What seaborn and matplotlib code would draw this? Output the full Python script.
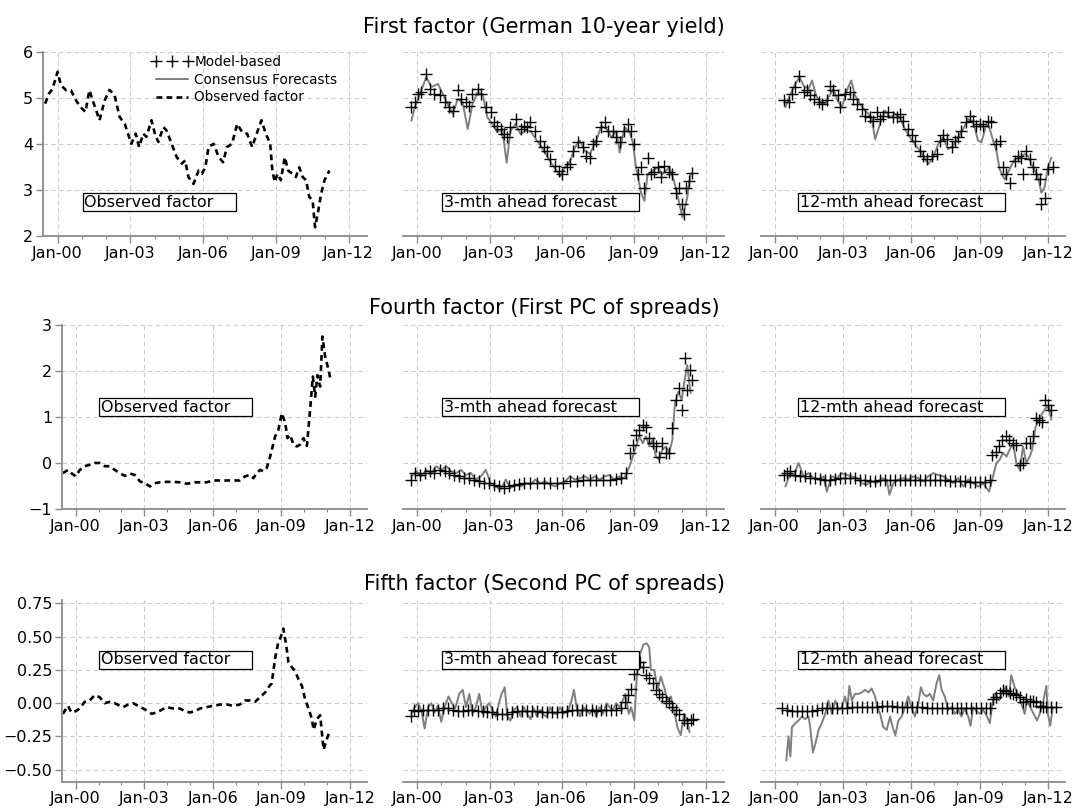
import numpy as np
import pandas as pd
import seaborn as sns
import matplotlib
matplotlib.use("Agg")
import matplotlib.pyplot as plt
from matplotlib.lines import Line2D

titles = ["First factor (German 10-year yield)",
          "Fourth factor (First PC of spreads)",
          "Fifth factor (Second PC of spreads)"]
panel_labels = ["Observed factor", "3-mth ahead forecast", "12-mth ahead forecast"]
legend_labels = ["Model-based", "Consensus Forecasts", "Observed factor"]
xtick_years = [2000, 2003, 2006, 2009, 2012]
xtick_labels = ["Jan-00", "Jan-03", "Jan-06", "Jan-09", "Jan-12"]
yticks = [[2, 3, 4, 5, 6], [-1, 0, 1, 2, 3], [-0.5, -0.25, 0, 0.25, 0.5, 0.75]]
ytick_labels = [["2", "3", "4", "5", "6"],
                ["\u22121", "0", "1", "2", "3"],
                ["\u22120.50", "\u22120.25", "0.00", "0.25", "0.50", "0.75"]]
ylims = [(2, 6), (-1, 3), (-0.59, 0.775)]

# (decimal year, value)
obs1 = [(1999.49,4.88),(1999.65,5.10),(1999.79,5.20),(2000.00,5.57),(2000.14,5.28),(2000.35,5.17),(2000.55,5.17),
        (2000.76,4.95),(2000.94,4.81),(2001.15,4.70),(2001.31,5.17),(2001.52,4.84),(2001.73,4.52),(2001.94,4.95),
        (2002.14,5.18),(2002.35,5.06),(2002.56,4.59),(2002.77,4.44),(2002.90,4.23),(2003.04,4.01),(2003.22,4.23),
        (2003.36,3.94),(2003.53,4.23),(2003.66,4.16),(2003.87,4.52),(2004.01,4.23),(2004.15,4.05),(2004.36,4.37),
        (2004.49,4.30),(2004.70,4.01),(2004.91,3.72),(2005.12,3.58),(2005.26,3.65),(2005.39,3.29),(2005.60,3.14),
        (2005.81,3.43),(2005.95,3.36),(2006.09,3.50),(2006.22,3.94),(2006.43,4.01),(2006.64,3.72),(2006.82,3.61),
        (2006.98,3.94),(2007.19,4.01),(2007.40,4.44),(2007.61,4.26),(2007.81,4.23),(2008.02,3.94),(2008.16,4.16),
        (2008.40,4.52),(2008.58,4.23),(2008.76,4.01),(2008.85,3.43),(2008.95,3.18),(2009.06,3.36),(2009.20,3.22),
        (2009.36,3.72),(2009.50,3.43),(2009.68,3.36),(2009.82,3.29),(2009.96,3.50),(2010.10,3.29),(2010.24,3.22),
        (2010.37,2.86),(2010.51,2.78),(2010.61,2.20),(2010.72,2.49),(2010.86,2.93),(2011.00,3.22),(2011.20,3.43)]
model1_3m = [(1999.73,4.80),(1999.89,4.91),(2000.03,5.09),(2000.16,5.13),(2000.37,5.53),(2000.51,5.20),(2000.71,5.09),
             (2000.92,5.06),(2001.13,4.91),(2001.33,4.80),(2001.47,4.73),(2001.68,5.17),(2001.81,4.98),(2002.02,4.91),
             (2002.16,4.84),(2002.29,5.09),(2002.50,5.20),(2002.64,5.09),(2002.84,4.80),(2003.05,4.69),(2003.19,4.48),
             (2003.32,4.40),(2003.46,4.33),(2003.60,4.22),(2003.74,4.15),(2003.87,4.37),(2004.08,4.55),(2004.29,4.33),
             (2004.42,4.40),(2004.56,4.37),(2004.70,4.48),(2004.90,4.29),(2005.11,4.08),(2005.25,3.93),(2005.38,3.86),
             (2005.52,3.68),(2005.73,3.53),(2005.87,3.42),(2006.00,3.35),(2006.21,3.50),(2006.35,3.57),(2006.48,3.86),
             (2006.69,4.04),(2006.90,3.93),(2007.03,3.75),(2007.17,3.71),(2007.31,4.00),(2007.44,4.08),(2007.65,4.37),
             (2007.79,4.48),(2007.93,4.29),(2008.13,4.29),(2008.27,4.15),(2008.41,4.04),(2008.61,4.29),(2008.75,4.44),
             (2008.89,4.29),(2009.02,4.00),(2009.16,3.35),(2009.30,3.50),(2009.44,3.06),(2009.57,3.71),(2009.71,3.35),
             (2009.85,3.39),(2009.99,3.50),(2010.12,3.28),(2010.26,3.53),(2010.47,3.39),(2010.60,3.35),(2010.74,2.95),
             (2010.88,3.06),(2011.02,2.70),(2011.09,2.48),(2011.15,3.06),(2011.29,3.21),(2011.43,3.37)]
cons1_3m = [(1999.75,4.51),(1999.89,4.80),(2000.16,5.17),(2000.37,5.46),(2000.58,5.24),(2000.85,5.31),(2001.06,5.09),
            (2001.26,4.87),(2001.47,4.66),(2001.68,4.98),(2001.88,4.91),(2002.09,4.33),(2002.29,4.87),(2002.50,5.13),
            (2002.71,5.09),(2002.91,4.58),(2003.12,4.44),(2003.32,4.26),(2003.53,4.33),(2003.71,3.60),(2003.87,4.29),
            (2004.08,4.44),(2004.29,4.22),(2004.49,4.29),(2004.70,4.29),(2004.97,4.08),(2005.18,3.93),(2005.38,3.75),
            (2005.59,3.57),(2005.80,3.42),(2005.96,3.31),(2006.14,3.50),(2006.35,3.64),(2006.55,3.93),(2006.76,4.08),
            (2006.96,3.86),(2007.17,3.79),(2007.44,4.08),(2007.65,4.40),(2007.86,4.33),(2008.07,4.15),(2008.27,4.29),
            (2008.41,3.82),(2008.61,4.37),(2008.82,4.26),(2008.96,4.04),(2009.09,3.50),(2009.30,2.95),(2009.44,2.77),
            (2009.57,3.35),(2009.78,3.42),(2009.99,3.50),(2010.19,3.35),(2010.47,3.50),(2010.67,3.21),(2010.81,2.91),
            (2011.02,2.41),(2011.22,2.84),(2011.36,3.35)]
model1_12m = [(2000.39,4.95),(2000.61,4.91),(2000.76,5.09),(2000.91,5.24),(2001.09,5.47),(2001.27,5.13),(2001.42,5.17),
              (2001.56,5.06),(2001.71,4.98),(2001.93,4.91),(2002.07,4.87),(2002.29,4.95),(2002.44,5.27),(2002.58,5.17),
              (2002.80,5.06),(2002.88,4.80),(2003.09,5.09),(2003.31,5.13),(2003.46,4.98),(2003.61,4.87),(2003.82,4.77),
              (2003.97,4.62),(2004.19,4.58),(2004.34,4.51),(2004.48,4.69),(2004.63,4.55),(2004.77,4.62),(2004.99,4.69),
              (2005.21,4.58),(2005.36,4.58),(2005.50,4.66),(2005.65,4.51),(2005.87,4.33),(2006.01,4.19),(2006.16,4.08),
              (2006.38,3.86),(2006.53,3.75),(2006.67,3.68),(2006.89,3.75),(2007.11,3.79),(2007.26,4.08),(2007.40,4.19),
              (2007.55,4.11),(2007.77,3.93),(2007.91,4.08),(2008.06,4.15),(2008.20,4.29),(2008.42,4.48),(2008.57,4.62),
              (2008.72,4.51),(2008.86,4.40),(2009.01,4.44),(2009.15,4.40),(2009.37,4.51),(2009.52,4.48),(2009.74,4.00),
              (2009.88,4.08),(2010.03,3.50),(2010.18,3.35),(2010.32,3.17),(2010.54,3.64),(2010.69,3.75),(2010.83,3.71),
              (2010.91,3.35),(2011.05,3.86),(2011.20,3.68),(2011.34,3.50),(2011.49,3.35),(2011.64,3.24),(2011.71,2.70),
              (2011.85,2.84),(2012.00,3.46),(2012.22,3.50)]
cons1_12m = [(2000.47,4.80),(2000.69,5.09),(2000.91,5.31),(2001.09,5.46),(2001.27,5.27),(2001.49,5.20),(2001.64,5.38),
             (2001.82,5.06),(2002.00,4.91),(2002.22,4.87),(2002.41,5.06),(2002.58,5.20),(2002.76,4.95),(2002.95,4.80),
             (2003.17,5.17),(2003.36,5.38),(2003.53,5.06),(2003.75,4.87),(2003.97,4.73),(2004.26,4.58),(2004.41,4.11),
             (2004.63,4.44),(2004.85,4.73),(2005.07,4.58),(2005.28,4.66),(2005.50,4.58),(2005.72,4.33),(2005.94,4.15),
             (2006.16,4.00),(2006.38,3.86),(2006.60,3.68),(2006.74,3.57),(2006.96,3.71),(2007.18,4.00),(2007.40,4.15),
             (2007.62,3.89),(2007.84,3.97),(2008.06,4.15),(2008.28,4.33),(2008.50,4.55),(2008.72,4.48),(2008.93,4.08),
             (2009.08,4.04),(2009.30,4.44),(2009.45,4.33),(2009.59,4.08),(2009.74,3.86),(2009.88,3.46),(2010.10,3.24),
             (2010.32,3.46),(2010.54,3.68),(2010.76,3.71),(2010.98,3.79),(2011.12,3.75),(2011.34,3.50),(2011.56,3.31),
             (2011.71,2.95),(2011.85,3.06),(2012.00,3.50),(2012.15,3.71)]

obs4 = [(1999.44,-0.22),(1999.66,-0.15),(1999.81,-0.22),(2000.00,-0.29),(2000.18,-0.15),(2000.39,-0.07),(2000.61,-0.04),
        (2000.83,0.00),(2001.05,0.00),(2001.27,-0.07),(2001.49,-0.07),(2001.71,-0.15),(2001.93,-0.22),(2002.15,-0.28),
        (2002.37,-0.23),(2002.59,-0.26),(2002.81,-0.40),(2003.03,-0.44),(2003.25,-0.51),(2003.46,-0.44),(2003.68,-0.42),
        (2003.98,-0.41),(2004.27,-0.41),(2004.56,-0.42),(2004.85,-0.45),(2005.00,-0.44),(2005.22,-0.42),(2005.44,-0.42),
        (2005.73,-0.42),(2006.02,-0.38),(2006.32,-0.38),(2006.61,-0.38),(2006.90,-0.38),(2007.19,-0.38),(2007.41,-0.29),
        (2007.63,-0.26),(2007.78,-0.33),(2007.92,-0.22),(2008.07,-0.15),(2008.22,-0.18),(2008.36,-0.11),(2008.51,0.14),
        (2008.73,0.58),(2008.87,0.72),(2009.02,1.08),(2009.17,0.87),(2009.27,0.54),(2009.39,0.61),(2009.53,0.40),
        (2009.68,0.36),(2009.82,0.40),(2009.97,0.54),(2010.12,0.37),(2010.26,1.16),(2010.38,1.88),(2010.48,1.44),
        (2010.58,1.91),(2010.70,1.66),(2010.80,2.75),(2010.92,2.31),(2011.07,2.02),(2011.14,1.84)]
model4_3m = [(1999.73,-0.38),(1999.89,-0.22),(2000.10,-0.26),(2000.30,-0.22),(2000.51,-0.18),(2000.71,-0.22),(2000.92,-0.15),
             (2001.13,-0.18),(2001.33,-0.22),(2001.54,-0.26),(2001.74,-0.29),(2001.95,-0.33),(2002.16,-0.33),(2002.36,-0.36),
             (2002.57,-0.40),(2002.77,-0.44),(2002.98,-0.44),(2003.19,-0.47),(2003.39,-0.51),(2003.60,-0.54),(2003.80,-0.51),
             (2004.01,-0.47),(2004.22,-0.45),(2004.42,-0.44),(2004.70,-0.44),(2004.97,-0.44),(2005.25,-0.44),(2005.52,-0.44),
             (2005.80,-0.44),(2006.07,-0.44),(2006.35,-0.40),(2006.62,-0.40),(2006.90,-0.38),(2007.17,-0.36),(2007.44,-0.36),
             (2007.72,-0.36),(2007.99,-0.36),(2008.27,-0.35),(2008.48,-0.33),(2008.68,-0.22),(2008.82,0.22),(2008.96,0.40),
             (2009.09,0.61),(2009.23,0.72),(2009.37,0.83),(2009.51,0.79),(2009.64,0.54),(2009.78,0.43),(2009.92,0.36),
             (2010.05,0.14),(2010.19,0.43),(2010.33,0.22),(2010.47,0.22),(2010.60,0.76),(2010.74,1.37),(2010.88,1.63),
             (2011.02,1.16),(2011.13,2.28),(2011.22,1.59),(2011.32,2.02),(2011.43,1.81)]
cons4_3m = [(1999.75,-0.29),(1999.96,-0.18),(2000.16,-0.29),(2000.37,-0.15),(2000.58,-0.22),(2000.78,-0.07),(2000.99,-0.15),
            (2001.20,-0.07),(2001.40,-0.18),(2001.61,-0.22),(2001.81,-0.15),(2002.02,-0.26),(2002.23,-0.22),(2002.43,-0.36),
            (2002.64,-0.29),(2002.84,-0.15),(2003.05,-0.44),(2003.26,-0.51),(2003.46,-0.58),(2003.67,-0.36),(2003.87,-0.54),
            (2004.08,-0.47),(2004.29,-0.51),(2004.49,-0.44),(2004.70,-0.47),(2004.90,-0.36),(2005.11,-0.44),(2005.32,-0.40),
            (2005.52,-0.47),(2005.73,-0.51),(2005.93,-0.44),(2006.14,-0.40),(2006.35,-0.29),(2006.55,-0.36),(2006.76,-0.33),
            (2006.96,-0.29),(2007.17,-0.36),(2007.38,-0.29),(2007.58,-0.36),(2007.79,-0.29),(2007.99,-0.26),(2008.20,-0.36),
            (2008.41,-0.29),(2008.61,-0.33),(2008.82,-0.07),(2008.96,0.14),(2009.09,0.36),(2009.23,0.58),(2009.37,0.43),
            (2009.51,0.58),(2009.64,0.36),(2009.78,0.50),(2009.92,0.14),(2010.05,0.07),(2010.19,0.29),(2010.33,0.36),
            (2010.47,0.22),(2010.60,0.50),(2010.71,1.30),(2010.85,1.55),(2010.99,1.37),(2011.09,1.73),(2011.22,2.13),
            (2011.36,1.52)]
model4_12m = [(2000.39,-0.26),(2000.54,-0.22),(2000.69,-0.18),(2000.91,-0.26),(2001.12,-0.29),(2001.34,-0.29),(2001.56,-0.33),
              (2001.78,-0.33),(2002.00,-0.35),(2002.22,-0.36),(2002.44,-0.36),(2002.66,-0.35),(2002.88,-0.33),(2003.09,-0.33),
              (2003.31,-0.33),(2003.53,-0.33),(2003.75,-0.36),(2003.97,-0.38),(2004.19,-0.40),(2004.41,-0.40),(2004.63,-0.38),
              (2004.85,-0.36),(2005.07,-0.36),(2005.28,-0.36),(2005.50,-0.36),(2005.72,-0.36),(2005.94,-0.38),(2006.16,-0.38),
              (2006.38,-0.38),(2006.60,-0.38),(2006.82,-0.38),(2007.04,-0.38),(2007.26,-0.38),(2007.47,-0.38),(2007.69,-0.40),
              (2007.91,-0.40),(2008.13,-0.40),(2008.35,-0.40),(2008.57,-0.42),(2008.79,-0.42),(2009.01,-0.42),(2009.23,-0.42),
              (2009.45,-0.36),(2009.56,0.18),(2009.71,0.25),(2009.85,0.36),(2010.00,0.50),(2010.15,0.58),(2010.29,0.50),
              (2010.47,0.43),(2010.61,0.40),(2010.76,-0.04),(2010.91,0.00),(2011.05,0.43),(2011.20,0.43),(2011.34,0.58),
              (2011.46,0.97),(2011.61,0.94),(2011.75,0.90),(2011.85,1.37),(2012.00,1.26),(2012.15,1.16)]
cons4_12m = [(2000.47,-0.51),(2000.69,-0.22),(2000.83,-0.29),(2001.05,0.00),(2001.27,-0.29),(2001.49,-0.22),(2001.71,-0.33),
             (2001.93,-0.36),(2002.15,-0.29),(2002.29,-0.62),(2002.51,-0.29),(2002.73,-0.33),(2002.95,-0.22),(2003.17,-0.26),
             (2003.39,-0.29),(2003.61,-0.33),(2003.82,-0.44),(2004.04,-0.47),(2004.26,-0.40),(2004.48,-0.44),(2004.70,-0.33),
             (2004.92,-0.36),(2005.04,-0.69),(2005.21,-0.44),(2005.43,-0.36),(2005.65,-0.33),(2005.87,-0.36),(2006.09,-0.29),
             (2006.31,-0.33),(2006.53,-0.40),(2006.74,-0.29),(2006.96,-0.22),(2007.18,-0.26),(2007.40,-0.29),(2007.62,-0.36),
             (2007.84,-0.44),(2008.06,-0.33),(2008.28,-0.51),(2008.50,-0.36),(2008.72,-0.44),(2008.93,-0.51),(2009.15,-0.44),
             (2009.42,-0.62),(2009.59,-0.29),(2009.74,0.00),(2009.88,0.07),(2010.03,0.22),(2010.18,0.14),(2010.32,0.29),
             (2010.47,0.43),(2010.61,0.00),(2010.76,-0.15),(2010.91,0.36),(2011.05,0.00),(2011.20,0.14),(2011.31,0.29),
             (2011.46,0.79),(2011.61,0.94),(2011.75,1.08),(2011.90,1.19),(2012.04,1.23),(2012.15,0.94)]

obs5 = [(1999.44,-0.08),(1999.66,-0.02),(1999.81,-0.07),(2000.00,-0.06),(2000.18,-0.04),(2000.39,0.01),(2000.61,0.02),
        (2000.83,0.06),(2001.05,0.045),(2001.27,0.00),(2001.49,0.01),(2001.71,0.00),(2001.93,-0.02),(2002.08,-0.03),
        (2002.30,-0.01),(2002.51,0.00),(2002.73,-0.02),(2002.95,-0.04),(2003.17,-0.06),(2003.32,-0.08),(2003.54,-0.07),
        (2003.76,-0.05),(2003.98,-0.03),(2004.27,-0.04),(2004.56,-0.04),(2004.78,-0.06),(2005.00,-0.07),(2005.22,-0.06),
        (2005.44,-0.04),(2005.73,-0.03),(2006.02,-0.02),(2006.32,-0.01),(2006.61,-0.01),(2006.90,-0.02),(2007.19,-0.01),
        (2007.41,0.02),(2007.63,0.02),(2007.85,0.01),(2008.07,0.045),(2008.29,0.08),(2008.44,0.12),(2008.58,0.15),
        (2008.73,0.34),(2008.87,0.46),(2008.98,0.50),(2009.09,0.56),(2009.21,0.44),(2009.31,0.31),(2009.46,0.27),
        (2009.61,0.24),(2009.75,0.18),(2009.90,0.13),(2010.04,0.03),(2010.19,-0.04),(2010.34,-0.12),(2010.41,-0.20),
        (2010.56,-0.12),(2010.70,-0.09),(2010.85,-0.35),(2010.99,-0.27),(2011.14,-0.20)]
model5_3m = [(1999.73,-0.10),(1999.86,-0.05),(2000.03,-0.06),(2000.23,-0.05),(2000.44,-0.05),(2000.65,-0.05),(2000.85,-0.05),
             (2001.06,-0.04),(2001.26,-0.04),(2001.47,-0.05),(2001.68,-0.06),(2001.88,-0.06),(2002.09,-0.05),(2002.29,-0.05),
             (2002.50,-0.06),(2002.71,-0.06),(2002.91,-0.07),(2003.12,-0.07),(2003.32,-0.08),(2003.53,-0.08),(2003.74,-0.08),
             (2003.94,-0.07),(2004.15,-0.06),(2004.35,-0.06),(2004.56,-0.06),(2004.77,-0.06),(2004.97,-0.06),(2005.18,-0.07),
             (2005.38,-0.07),(2005.59,-0.07),(2005.80,-0.07),(2006.00,-0.07),(2006.21,-0.06),(2006.41,-0.05),(2006.62,-0.05),
             (2006.83,-0.05),(2007.03,-0.05),(2007.24,-0.05),(2007.44,-0.06),(2007.65,-0.05),(2007.86,-0.05),(2008.07,-0.05),
             (2008.27,-0.05),(2008.48,-0.04),(2008.65,0.01),(2008.75,0.06),(2008.89,0.11),(2009.02,0.22),(2009.13,0.27),
             (2009.26,0.31),(2009.37,0.27),(2009.51,0.21),(2009.64,0.19),(2009.78,0.15),(2009.92,0.10),(2010.05,0.07),
             (2010.19,0.05),(2010.33,0.02),(2010.47,0.00),(2010.60,-0.03),(2010.74,-0.05),(2010.88,-0.08),(2011.08,-0.13),
             (2011.22,-0.15),(2011.36,-0.13),(2011.46,-0.12)]
cons5_3m = [(1999.75,-0.08),(1999.89,-0.03),(2000.03,0.00),(2000.16,-0.05),(2000.30,-0.19),(2000.44,-0.03),(2000.58,0.00),
            (2000.71,-0.07),(2000.85,-0.02),(2000.99,-0.14),(2001.13,-0.03),(2001.29,0.05),(2001.43,0.00),(2001.57,-0.04),
            (2001.74,0.07),(2001.88,0.10),(2002.02,-0.03),(2002.16,0.07),(2002.29,-0.08),(2002.43,-0.03),(2002.57,0.07),
            (2002.71,-0.08),(2002.84,-0.03),(2002.98,0.00),(2003.12,-0.05),(2003.26,-0.10),(2003.39,0.00),(2003.50,0.07),
            (2003.63,0.12),(2003.74,-0.10),(2003.87,-0.13),(2004.01,-0.05),(2004.15,-0.03),(2004.29,-0.10),(2004.42,-0.03),
            (2004.56,-0.08),(2004.70,-0.12),(2004.84,-0.04),(2004.97,-0.10),(2005.11,-0.05),(2005.25,-0.09),(2005.38,-0.10),
            (2005.52,-0.03),(2005.66,-0.08),(2005.80,-0.08),(2005.93,-0.03),(2006.07,-0.08),(2006.28,-0.05),(2006.41,0.02),
            (2006.51,0.10),(2006.62,-0.03),(2006.76,-0.10),(2006.90,-0.03),(2007.03,-0.05),(2007.17,-0.08),(2007.31,-0.04),
            (2007.44,-0.10),(2007.58,-0.03),(2007.72,-0.08),(2007.86,0.00),(2007.99,-0.03),(2008.13,-0.05),(2008.27,0.00),
            (2008.41,-0.03),(2008.54,0.02),(2008.65,0.07),(2008.79,-0.08),(2008.89,-0.03),(2009.02,-0.13),(2009.13,0.22),
            (2009.26,0.37),(2009.40,0.44),(2009.53,0.45),(2009.64,0.42),(2009.71,0.25),(2009.85,0.25),(2009.99,0.10),
            (2010.12,0.20),(2010.26,0.12),(2010.40,0.02),(2010.54,0.05),(2010.67,-0.05),(2010.81,-0.18),(2010.95,-0.24),
            (2011.09,-0.08),(2011.22,-0.13),(2011.32,-0.22)]
model5_12m = [(2000.32,-0.04),(2000.54,-0.05),(2000.76,-0.06),(2000.98,-0.06),(2001.20,-0.06),(2001.42,-0.06),(2001.64,-0.06),
              (2001.85,-0.05),(2002.07,-0.04),(2002.29,-0.04),(2002.51,-0.04),(2002.73,-0.04),(2002.95,-0.04),(2003.17,-0.04),
              (2003.39,-0.03),(2003.61,-0.03),(2003.82,-0.03),(2004.04,-0.03),(2004.26,-0.03),(2004.48,-0.03),(2004.70,-0.02),
              (2004.92,-0.02),(2005.14,-0.02),(2005.36,-0.03),(2005.58,-0.03),(2005.80,-0.03),(2006.01,-0.03),(2006.23,-0.03),
              (2006.45,-0.03),(2006.67,-0.04),(2006.89,-0.04),(2007.11,-0.04),(2007.33,-0.04),(2007.55,-0.04),(2007.77,-0.04),
              (2007.99,-0.04),(2008.20,-0.04),(2008.42,-0.04),(2008.64,-0.04),(2008.86,-0.04),(2009.08,-0.04),(2009.30,-0.04),
              (2009.47,-0.04),(2009.59,0.03),(2009.74,0.05),(2009.88,0.08),(2010.03,0.10),(2010.18,0.09),(2010.32,0.08),
              (2010.47,0.07),(2010.61,0.06),(2010.76,0.05),(2010.91,0.01),(2011.05,0.03),(2011.20,0.02),(2011.34,0.02),
              (2011.49,0.01),(2011.64,-0.02),(2011.78,-0.03),(2011.93,-0.03),(2012.15,-0.03),(2012.36,-0.03)]
cons5_12m = [(2000.51,-0.43),(2000.61,-0.25),(2000.69,-0.40),(2000.76,-0.18),(2000.91,-0.15),(2001.05,-0.13),(2001.20,-0.10),
             (2001.34,-0.12),(2001.49,-0.10),(2001.56,-0.18),(2001.68,-0.37),(2001.78,-0.31),(2001.93,-0.20),(2002.07,-0.15),
             (2002.22,-0.08),(2002.36,0.02),(2002.51,-0.08),(2002.66,0.02),(2002.80,-0.05),(2002.95,-0.03),(2003.09,0.05),
             (2003.20,-0.03),(2003.28,0.13),(2003.39,0.02),(2003.53,0.07),(2003.68,0.07),(2003.82,0.08),(2003.97,0.10),
             (2004.12,0.08),(2004.26,0.11),(2004.41,0.05),(2004.51,-0.03),(2004.63,-0.08),(2004.77,-0.18),(2004.92,-0.20),
             (2005.07,-0.10),(2005.18,-0.18),(2005.30,-0.24),(2005.43,-0.13),(2005.58,-0.10),(2005.72,-0.03),(2005.87,0.05),
             (2006.01,-0.03),(2006.16,-0.10),(2006.31,0.00),(2006.42,0.12),(2006.53,0.07),(2006.67,0.05),(2006.82,0.07),
             (2006.96,0.02),(2007.11,0.15),(2007.23,0.21),(2007.33,0.10),(2007.47,0.05),(2007.62,-0.05),(2007.77,-0.03),
             (2007.91,-0.08),(2008.06,-0.05),(2008.20,-0.10),(2008.35,-0.04),(2008.50,-0.10),(2008.60,-0.17),(2008.72,-0.03),
             (2008.86,-0.06),(2009.01,-0.08),(2009.15,-0.05),(2009.30,-0.09),(2009.45,-0.15),(2009.56,0.00),(2009.71,0.07),
             (2009.85,0.02),(2010.00,0.09),(2010.15,0.12),(2010.29,0.05),(2010.39,0.21),(2010.54,0.12),(2010.69,0.07),
             (2010.83,0.00),(2010.98,-0.08),(2011.08,0.02),(2011.23,-0.03),(2011.37,-0.08),(2011.52,-0.13),(2011.64,-0.08),
             (2011.78,0.00),(2011.93,0.13),(2012.00,-0.08),(2012.10,-0.17),(2012.22,-0.03)]

observed = [obs1, obs4, obs5]
model = [[model1_3m, model1_12m], [model4_3m, model4_12m], [model5_3m, model5_12m]]
consensus = [[cons1_3m, cons1_12m], [cons4_3m, cons4_12m], [cons5_3m, cons5_12m]]


def frame(pairs):
    return pd.DataFrame(pairs, columns=["date", "value"])


sns.set_style("white")
plt.rcParams["font.family"] = ["DejaVu Sans"]
plt.rcParams["text.color"] = "black"
plt.rcParams["xtick.labelcolor"] = "black"
plt.rcParams["ytick.labelcolor"] = "black"

W, H = 1075, 809
fig = plt.figure(figsize=(W / 100, H / 100), dpi=100)

# pixel boxes (left, top, right, bottom) of every panel
row_tb = [(52, 236.5), (325, 509), (600, 781.7)]
col_lr = [[(43, 367), (403, 724), (761, 1065)],
          [(62, 367), (403, 724), (761, 1065)],
          [(62, 367), (403, 724), (761, 1065)]]
box_y = [0.185, 0.554, 0.67]
title_y = [33, 314, 590]

obs_style = dict(color="black", lw=1.9, linestyle=(0, (2.2, 1.6)))
cons_style = dict(color="#7f7f7f", lw=1.4)
model_style = dict(color="black", marker="+", s=75, linewidth=1.0)
spine_col = "#8a8a8a"
xlim = (1999.4, 2012.75)

for r in range(3):
    top, bot = row_tb[r]
    fig.text(544 / W, 1 - title_y[r] / H, titles[r], ha="center", va="baseline",
             fontsize=15, color="black")
    for c in range(3):
        l, rr = col_lr[r][c]
        ax = fig.add_axes([l / W, 1 - bot / H, (rr - l) / W, (bot - top) / H])
        if c == 0:
            sns.lineplot(data=frame(observed[r]), x="date", y="value", ax=ax,
                         errorbar=None, **obs_style)
        else:
            sns.lineplot(data=frame(consensus[r][c - 1]), x="date", y="value", ax=ax,
                         errorbar=None, **cons_style)
            sns.scatterplot(data=frame(model[r][c - 1]), x="date", y="value", ax=ax,
                            zorder=3, **model_style)
        ax.set_xlim(*xlim)
        ax.set_ylim(*ylims[r])
        ax.set_xlabel("")
        ax.set_ylabel("")
        ax.set_xticks(xtick_years)
        ax.set_xticklabels(xtick_labels)
        ax.set_xticks(np.arange(2000, 2013), minor=True)
        ax.set_yticks(yticks[r])
        ax.set_yticklabels(ytick_labels[r])
        ax.grid(True, which="major", color="#cccccc", lw=0.8, linestyle=(0, (4, 3)))
        ax.set_axisbelow(True)
        for side in ["top", "right"]:
            ax.spines[side].set_visible(False)
        ax.spines["bottom"].set_color(spine_col)
        ax.spines["bottom"].set_linewidth(1.3)
        ax.spines["left"].set_color(spine_col)
        ax.spines["left"].set_linewidth(1.3)
        ax.tick_params(axis="x", which="major", length=5, width=1, color=spine_col,
                       labelsize=11.5, labelcolor="black", pad=2, direction="out", bottom=True)
        ax.tick_params(axis="x", which="minor", length=2.5, width=0.8, color=spine_col,
                       direction="out", bottom=True)
        if c == 0:
            ax.tick_params(axis="y", length=5, width=1, color=spine_col, labelsize=11.5,
                           labelcolor="black", pad=2, direction="out", left=True)
        else:
            ax.spines["left"].set_visible(False)
            ax.tick_params(axis="y", left=False, labelleft=False)
        ax.text(0.127, box_y[r], panel_labels[c] + "    ", transform=ax.transAxes,
                ha="left", va="center", fontsize=11.5, zorder=5, color="black",
                bbox=dict(boxstyle="square,pad=0.1", fc="white", ec="black", lw=0.9))
        if r == 0 and c == 0:
            handles = [Line2D([], [], ls="", marker="+", color="black", ms=9, mew=1.0),
                       Line2D([], [], **cons_style),
                       Line2D([], [], **obs_style)]
            leg = ax.legend(handles, legend_labels, loc="upper left", bbox_to_anchor=(0.335, 0.985),
                            frameon=False, fontsize=9.8, numpoints=3, handlelength=3.0,
                            handletextpad=0.15, labelspacing=0.28, borderpad=0, borderaxespad=0)
            for t in leg.get_texts():
                t.set_color("black")

fig.savefig("out.png", dpi=100)
